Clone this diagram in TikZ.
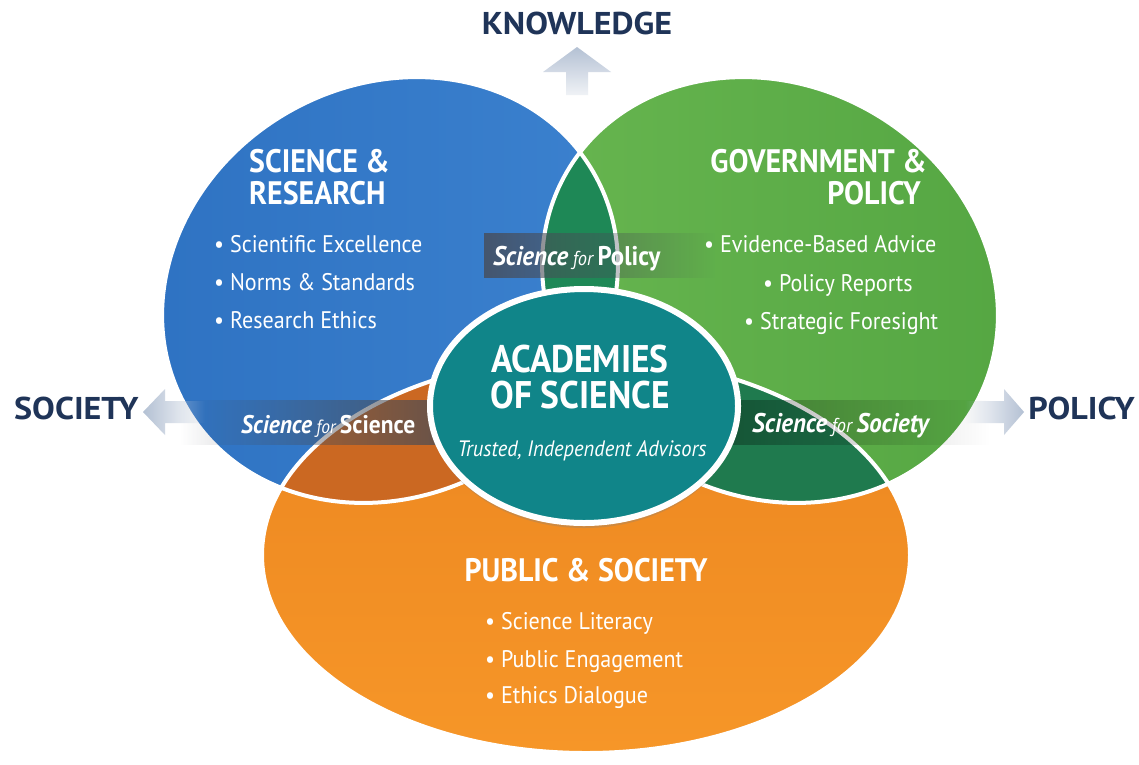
\documentclass[tikz,border=0pt]{standalone}
\usepackage{fontspec}
\setmainfont{PT Sans}[FakeStretch=0.92]
\newfontfamily\wideFont{PT Sans}[FakeStretch=1.08]
\usetikzlibrary{shapes.geometric, fadings, shadows}

\definecolor{sciBlue}{RGB}{60,130,207}
\definecolor{sciBlueDark}{RGB}{46,114,194}
\definecolor{govGreen}{RGB}{104,182,80}
\definecolor{govGreenDark}{RGB}{84,166,66}
\definecolor{pubOrange}{RGB}{246,150,40}
\definecolor{pubOrangeDark}{RGB}{236,134,32}
\definecolor{acadTeal}{RGB}{16,133,137}
\definecolor{lensTop}{RGB}{30,136,86}
\definecolor{lensRight}{RGB}{31,122,78}
\definecolor{lensLeft}{RGB}{203,104,34}
\definecolor{navyText}{RGB}{31,52,88}
\definecolor{arrowGrey}{RGB}{180,193,212}
\definecolor{ribbonGrey}{RGB}{72,76,86}

\tikzfading[name=fade both, left color=transparent!100, middle color=transparent!0, right color=transparent!100]
\tikzfading[name=fade out right, left color=transparent!0, middle color=transparent!15, right color=transparent!100]
\tikzfading[name=fade out left, left color=transparent!100, middle color=transparent!15, right color=transparent!0]
\tikzfading[name=fade out down, top color=transparent!0, middle color=transparent!0, bottom color=transparent!80]

% the three fields, in picture pixels
\newcommand{\fieldSci}{[rotate around={30:(390,290)}] (390,290) ellipse [x radius=235pt, y radius=205pt]}
\newcommand{\fieldGov}{[rotate around={-30:(770,290)}] (770,290) ellipse [x radius=235pt, y radius=205pt]}
\newcommand{\fieldPub}{(586,555) ellipse [x radius=324pt, y radius=198pt]}

\begin{document}
\begin{tikzpicture}[x=1pt, y=-1pt,
    heading/.style={inner sep=0pt, text=white, font=\fontsize{32.5}{32.5}\selectfont\bfseries},
    centre head/.style={inner sep=0pt, align=center, text=white, font=\fontsize{38.5}{36}\selectfont\bfseries},
    item/.style={inner sep=0pt, anchor=base west, text=white, font=\fontsize{24}{24}\selectfont},
    ribbon text/.style={inner sep=0pt, anchor=base west, text=white, font=\fontsize{27}{27}\selectfont},
    outer/.style={inner sep=0pt, text=navyText, font=\wideFont\fontsize{31.5}{31.5}\selectfont\bfseries},
    rim/.style={draw=white, line width=4pt},
    rule/.style={fill=white, fill opacity=0.85, path fading=fade both},
    ribbon/.style={fill=ribbonGrey},
    way/.style={fill=arrowGrey},
  ]
  \useasboundingbox[fill=white] (0,0) rectangle (1139,764);

  % fields
  \shade[left color=sciBlueDark, right color=sciBlue] \fieldSci;
  \shade[left color=govGreen, right color=govGreenDark] \fieldGov;
  \shade[top color=pubOrangeDark, bottom color=pubOrange] \fieldPub;

  % overlaps
  \begin{scope}
    \clip \fieldSci;
    \fill[lensTop] \fieldGov;
  \end{scope}
  \begin{scope}
    \clip \fieldPub;
    \fill[lensLeft] \fieldSci;
    \fill[lensRight] \fieldGov;
  \end{scope}

  \draw[rim] \fieldSci;
  \draw[rim] \fieldGov;
  \draw[rim] \fieldPub;

  % ribbons and arrows
  \fill[ribbon, fill opacity=0.8, path fading=fade out right] (484,233) rectangle (715,278);
  \fill[ribbon, fill opacity=0.75, path fading=fade out left] (180,400) rectangle (440,445);
  \fill[black, fill opacity=0.3, path fading=fade out right] (725,400) rectangle (990,445);

  \fill[way, path fading=fade out down] (577,47) -- (611,72) -- (588,72) -- (588,95) -- (566,95) -- (566,72) -- (543,72) -- cycle;
  \fill[way, path fading=fade out right] (143,412) -- (165,389) -- (165,401) -- (205,401) -- (205,423) -- (165,423) -- (165,435) -- cycle;
  \fill[way, path fading=fade out left] (1024,412) -- (1004,389) -- (1004,401) -- (965,401) -- (965,423) -- (1004,423) -- (1004,435) -- cycle;

  % centre
  \node[ellipse, fill=acadTeal, draw=white, line width=6pt, minimum width=308pt, minimum height=234pt, inner sep=0pt,
        drop shadow={shadow xshift=0pt, shadow yshift=-5pt, opacity=0.3}] (acad) at (584,406) {};
  \node[centre head] (acadTitle) at (580,377) {ACADEMIES\\OF SCIENCE};
  \fill[rule] (453,421) rectangle (707,423);
  \node[inner sep=0pt, anchor=base, text=white, font=\fontsize{22.3}{22.3}\selectfont\itshape] (acadSub) at (582,456) {Trusted, Independent Advisors};

  % science & research
  \node[heading, anchor=base west] (sciA) at (249,172) {SCIENCE \&};
  \node[heading, anchor=base west] (sciB) at (249,204) {RESEARCH};
  \fill[rule] (230,212) rectangle (470,214);
  \node[item] (sci1) at (214,252) {• Scientific Excellence};
  \node[item] (sci2) at (214,290) {• Norms \& Standards};
  \node[item] (sci3) at (214,328) {• Research Ethics};

  % government & policy
  \node[heading, anchor=base east] (govA) at (927,172) {GOVERNMENT \&};
  \node[heading, anchor=base east] (govB) at (921,204) {POLICY};
  \fill[rule] (698,212) rectangle (937,214);
  \node[item] (gov1) at (704,252) {• Evidence-Based Advice};
  \node[item] (gov2) at (763,291) {• Policy Reports};
  \node[item] (gov3) at (744,329) {• Strategic Foresight};

  % public & society
  \node[heading, anchor=base] (pubA) at (586,581) {PUBLIC \& SOCIETY};
  \fill[rule] (445,590) rectangle (725,592);
  \node[item] (pub1) at (485,629) {• Science Literacy};
  \node[item] (pub2) at (485,667) {• Public Engagement};
  \node[item] (pub3) at (485,703) {• Ethics Dialogue};

  % ribbon labels
  \node[ribbon text] (forPolicy) at (493,265) {\textbf{\textit{Science}}\,{\itshape\fontsize{20}{20}\selectfont for}\,\textbf{Policy}};
  \node[ribbon text, font=\fontsize{25.5}{25.5}\selectfont] (forScience) at (241,433) {\textbf{\textit{Science}}\,{\itshape\fontsize{19}{19}\selectfont for}\,\textbf{Science}};
  \node[ribbon text] (forSociety) at (752,432) {\textbf{\textit{Science}}\,{\itshape\fontsize{20}{20}\selectfont for}\,\textbf{\textit{Society}}};

  % directions
  \node[outer, anchor=base] (knowledge) at (577,34) {KNOWLEDGE};
  \node[outer, anchor=base west] (society) at (14,419) {SOCIETY};
  \node[outer, anchor=base east] (policy) at (1135,419) {POLICY};
\end{tikzpicture}
\end{document}
